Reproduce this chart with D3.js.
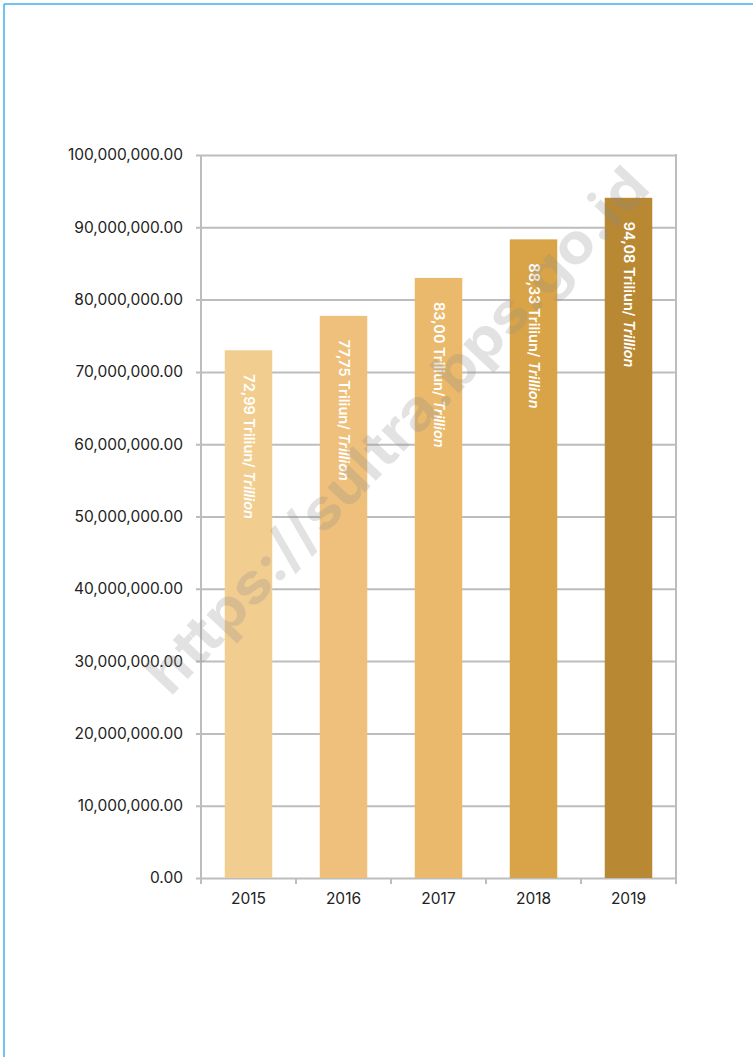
<!DOCTYPE html>
<meta charset="utf-8">
<head>
	<title>PDRB 2015-2019</title>
	<script src="https://cdn.jsdelivr.net/npm/d3@7"></script>
	<style>
		body { margin: 0; background: #fff; }
		text { font-family: Inter, "DejaVu Sans", sans-serif; }
	</style>
</head>
<body>
	<div id="chart"></div>
	<script>
		// data
		var years = ["2015", "2016", "2017", "2018", "2019"];
		var values = [72990000, 77750000, 83000000, 88330000, 94080000];
		var labels = ["72,99", "77,75", "83,00", "88,33", "94,08"];
		var colors = ["#F2CD90", "#EEC07B", "#EAB96B", "#D8A447", "#B98833"];
		var yTicks = [0, 10000000, 20000000, 30000000, 40000000, 50000000, 60000000, 70000000, 80000000, 90000000, 100000000];

		var w = 753, h = 1057;
		// plot box (avoid window.top clash)
		var pL = 201, pR = 676, pT = 155, pB = 878;

		var svg = d3.select("#chart").append("svg")
			.attr("width", w).attr("height", h);

		// page frame (blue lines top and left)
		svg.append("line").attr("x1", 4).attr("x2", w).attr("y1", 4).attr("y2", 4)
			.style("stroke", "#3FB1EE").style("stroke-width", 1.5);
		svg.append("line").attr("x1", 4).attr("x2", 4).attr("y1", 4).attr("y2", h)
			.style("stroke", "#3FB1EE").style("stroke-width", 1.5);

		var x = d3.scaleBand().domain(years).range([pL, pR]).paddingInner(0.5).paddingOuter(0.25);
		var y = d3.scaleLinear().domain([0, 100000000]).range([pB, pT]);

		var fmt = d3.format(",.2f");

		// gridlines + y labels
		var yAxis = d3.axisLeft(y).tickValues(yTicks).tickFormat(fmt)
			.tickSize(-(pR - pL + 5)).tickPadding(13);
		var gY = svg.append("g").attr("transform", "translate(" + (pL - 5) + ",0)").call(yAxis);
		gY.select(".domain").remove();
		gY.selectAll("line").style("stroke", "#BDBDBD").style("stroke-width", 2);
		gY.selectAll("text").style("font-size", "15.5px").style("fill", "#222")
			.style("font-family", "Inter, 'DejaVu Sans', sans-serif");

		// axis line and right border
		svg.append("line").attr("x1", pL).attr("x2", pL).attr("y1", pT).attr("y2", pB + 6)
			.style("stroke", "#BDBDBD").style("stroke-width", 2);
		svg.append("line").attr("x1", pR).attr("x2", pR).attr("y1", pT - 1).attr("y2", pB + 6)
			.style("stroke", "#BDBDBD").style("stroke-width", 2);

		// x ticks at band edges
		var step = x.step();
		var edges = d3.range(years.length + 1).map(function (i) { return pL + i * step; });
		svg.selectAll(".xt").data(edges).enter().append("line")
			.attr("x1", function (d) { return d; }).attr("x2", function (d) { return d; })
			.attr("y1", pB).attr("y2", pB + 6)
			.style("stroke", "#BDBDBD").style("stroke-width", 2);

		svg.selectAll(".xl").data(years).enter().append("text")
			.attr("x", function (d) { return x(d) + x.bandwidth() / 2; })
			.attr("y", pB + 26)
			.attr("text-anchor", "middle")
			.style("font-size", "15.5px").style("fill", "#222")
			.text(function (d) { return d; });

		// bars
		svg.selectAll(".bar").data(values).enter().append("rect")
			.attr("x", function (d, i) { return x(years[i]); })
			.attr("y", function (d) { return y(d); })
			.attr("width", x.bandwidth())
			.attr("height", function (d) { return pB - y(d); })
			.style("fill", function (d, i) { return colors[i]; });

		// rotated labels
		var lab = svg.selectAll(".lab").data(values).enter().append("text")
			.attr("transform", function (d, i) {
				return "translate(" + (x(years[i]) + x.bandwidth() / 2 - 5) + "," + (y(d) + 24) + ") rotate(90)";
			})
			.style("font-size", "14.5px").style("font-weight", 600).style("fill", "#fff");
		lab.append("tspan").text(function (d, i) { return labels[i] + " Triliun/ "; });
		lab.append("tspan").style("font-style", "italic").text("Trillion");

		// watermark
		svg.append("text")
			.attr("transform", "translate(397,430) rotate(-46.5)")
			.attr("text-anchor", "middle")
			.attr("dy", "0.35em")
			.attr("textLength", 700)
			.attr("lengthAdjust", "spacingAndGlyphs")
			.style("font-size", "56px").style("font-weight", "bold")
			.style("fill", "#8a8a8a").style("fill-opacity", 0.25)
			.text("https://sultra.bps.go.id");
	</script>
</body>
</html>
